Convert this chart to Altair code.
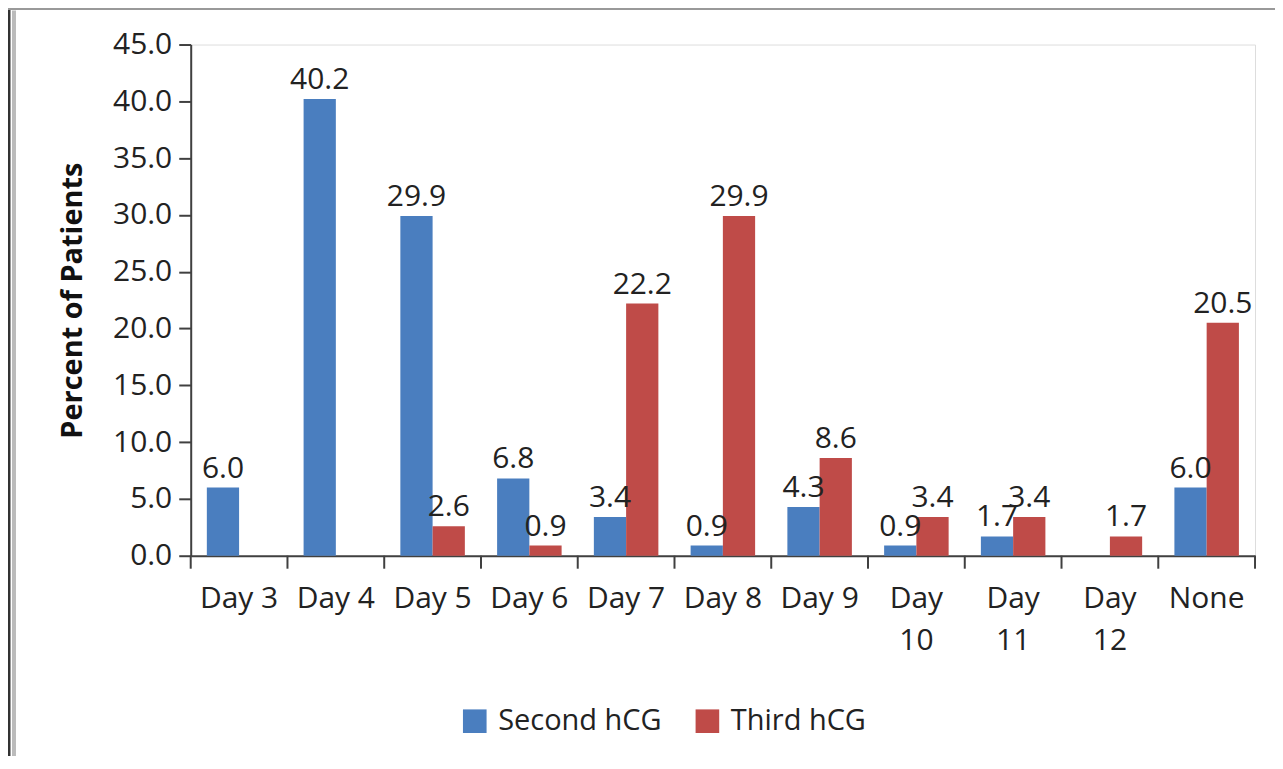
import altair as alt
import pandas as pd

categories = ["Day 3", "Day 4", "Day 5", "Day 6", "Day 7", "Day 8", "Day 9",
              "Day 10", "Day 11", "Day 12", "None"]
series_names = ["Second hCG", "Third hCG"]
second_hcg = [6.0, 40.2, 29.9, 6.8, 3.4, 0.9, 4.3, 0.9, 1.7, None, 6.0]
third_hcg = [None, None, 2.6, 0.9, 22.2, 29.9, 8.6, 3.4, 3.4, 1.7, 20.5]
y_ticks = [0, 5, 10, 15, 20, 25, 30, 35, 40, 45]

rows = []
for c, s, t in zip(categories, second_hcg, third_hcg):
    rows.append({"day": c, "series": series_names[0], "value": s})
    rows.append({"day": c, "series": series_names[1], "value": t})
df = pd.DataFrame(rows)
ticks_df = pd.DataFrame({"day": categories})
one = pd.DataFrame({"a": [0]})

FONT = "Open Sans"
W, H = 1066, 512
AX = "#404040"
TXT = "#222222"

x_axis = alt.Axis(title=None, labelAngle=0, ticks=False, labelFontSize=30,
                  labelFont=FONT, labelColor=TXT, labelPadding=28,
                  labelExpr="length(datum.label) > 5 ? split(datum.label, ' ') : datum.label",
                  labelLineHeight=42, domainColor=AX, domainWidth=2)
x_enc = alt.X("day:N", sort=categories,
              scale=alt.Scale(paddingInner=0, paddingOuter=0), axis=x_axis)
xo_enc = alt.XOffset("series:N", sort=series_names,
                     scale=alt.Scale(paddingOuter=0.5, paddingInner=0))
y_enc = alt.Y("value:Q", scale=alt.Scale(domain=[0, 45]),
              axis=alt.Axis(values=y_ticks, format=".1f", grid=False,
                            title="Percent of Patients", titleFont=FONT,
                            titleFontSize=29, titleFontWeight="bold",
                            titleColor="#111111", titlePadding=25,
                            labelFont=FONT, labelFontSize=30, labelColor=TXT,
                            labelPadding=7, tickSize=12, tickColor=AX,
                            tickWidth=2, domainColor=AX, domainWidth=2))

base = alt.Chart(df).transform_filter("isValid(datum.value)")

bars = base.mark_bar().encode(
    x=x_enc, xOffset=xo_enc, y=y_enc,
    color=alt.Color("series:N", sort=series_names,
                    scale=alt.Scale(domain=series_names, range=["#4A7EBF", "#BF4B48"]),
                    legend=alt.Legend(title=None, orient="none", direction="horizontal",
                                      legendX=270, legendY=663, padding=0,
                                      symbolType="square", symbolSize=560,
                                      symbolStrokeWidth=0, labelFont=FONT,
                                      labelFontSize=29, labelColor="#222222",
                                      labelLimit=0, labelOffset=9, columnPadding=31)),
)

labels = base.mark_text(baseline="alphabetic", dy=-10, fontSize=30, font=FONT,
                        color=TXT).encode(
    x=x_enc, xOffset=xo_enc, y=y_enc,
    text=alt.Text("value:Q", format=".1f"),
)

xticks = alt.Chart(ticks_df).mark_rule(color=AX, strokeWidth=2).encode(
    x=alt.X("day:N", sort=categories, bandPosition=0,
            scale=alt.Scale(paddingInner=0, paddingOuter=0), axis=x_axis),
    y=alt.value(H), y2=alt.value(H + 13),
)
last_tick = alt.Chart(one).mark_rule(color=AX, strokeWidth=2).encode(
    x=alt.value(W), y=alt.value(H), y2=alt.value(H + 13))

frame_left = alt.Chart(one).mark_rule(color="#333333", strokeWidth=3).encode(
    x=alt.value(-182), y=alt.value(-37), y2=alt.value(H + 230))
frame_left2 = alt.Chart(one).mark_rule(color="#bbbbbb", strokeWidth=4).encode(
    x=alt.value(-177), y=alt.value(-34), y2=alt.value(H + 230))
frame_top = alt.Chart(one).mark_rule(color="#999999", strokeWidth=3).encode(
    x=alt.value(-183), x2=alt.value(W + 30), y=alt.value(-36))

chart = alt.layer(bars, labels, xticks, last_tick, frame_left, frame_left2, frame_top).properties(
    width=W, height=H,
    autosize=alt.AutoSizeParams(type="none"),
    padding={"left": 183, "top": 36, "right": 20, "bottom": 200},
).configure_view(stroke="#dddddd", strokeWidth=2).configure(background="white")

chart.save("out.html", embed_options={"renderer": "svg", "actions": False})
